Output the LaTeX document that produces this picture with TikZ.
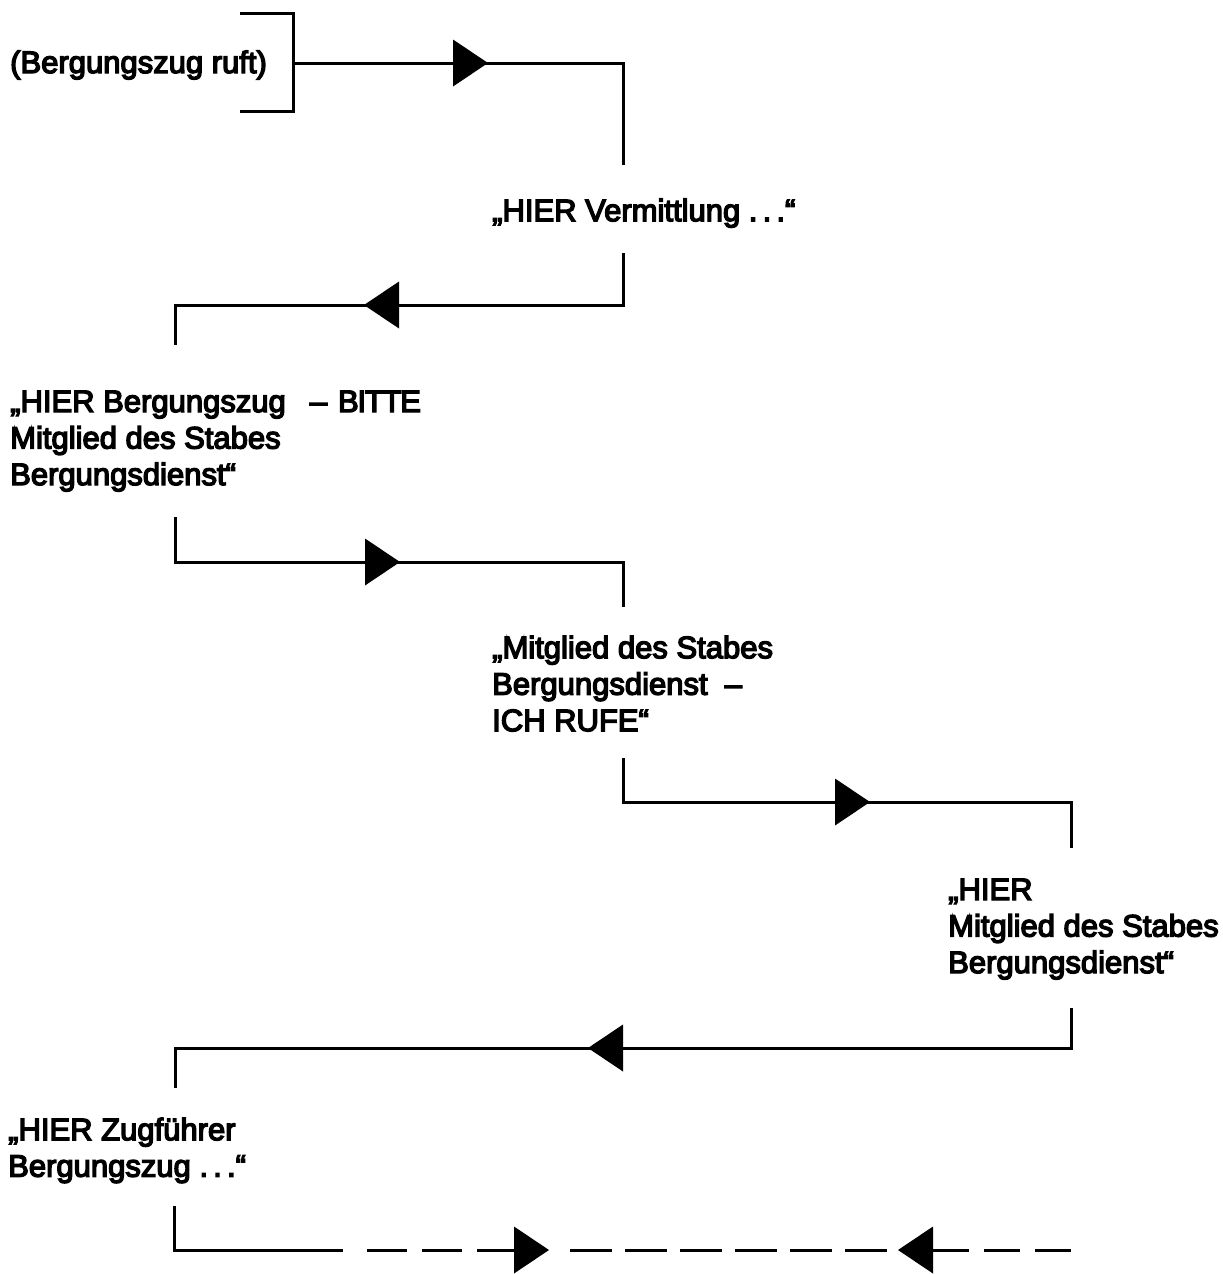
\documentclass[tikz,border=0pt]{standalone}
\usepackage{fontspec}
\setmainfont{Liberation Sans}[UprightFeatures={FakeBold=4.5}]
\begin{document}
\begin{tikzpicture}[x=1pt,y=-1pt,
  wire/.style={line width=3pt, line join=miter},
  msg/.style={font=\fontsize{31}{36.5}\selectfont, inner sep=0pt, align=left, anchor=north west},
  pics/headR/.style={code={\fill (0,0) -- (-35,-23.5) -- (-35,23.5) -- cycle;}},
  pics/headL/.style={code={\fill (0,0) -- (35,-23.5) -- (35,23.5) -- cycle;}}]
\useasboundingbox (0,0) rectangle (1223,1274);

% call texts
\node[msg, anchor=base west] (caller) at (10,73) {(Bergungszug ruft)};
\node[msg] (m1) at (492,198.5) {„HIER Vermittlung .\,.\,.“};
\node[msg] (m2) at (10,390.5) {„HIER Bergungszug\hspace{24pt}–\hspace{11pt}{\addfontfeature{LetterSpace=-4}BITTE}\\Mitglied des Stabes\\Bergungsdienst“};
\node[msg] (m3) at (492,635.5) {„Mitglied des Stabes\\Bergungsdienst \ –\\ICH RUFE“};
\node[msg] (m4) at (948,878.5) {„HIER\\Mitglied des Stabes\\Bergungsdienst“};
\node[msg] (m5) at (8,1117.5) {„HIER Zugführer\\Bergungszug .\,.\,.“};

% bracket around the caller
\coordinate (bt) at (240,13);
\coordinate (bb) at (240,111);
\draw[wire] (bt) -- (293,13) -- (293,111) -- (bb);

% 1: caller -> Vermittlung
\coordinate (s1) at (293,63);
\coordinate (c1) at (623,63);
\coordinate (e1) at (623,165);
\draw[wire] (s1) -- (c1) -- (e1);
\pic at (488,63) {headR};

% 2: Vermittlung -> Bergungszug
\coordinate (s2) at (623,253);
\coordinate (c2a) at (623,305);
\coordinate (c2b) at (175,305);
\coordinate (e2) at (175,345);
\draw[wire] (s2) -- (c2a) -- (c2b) -- (e2);
\pic at (364,305) {headL};

% 3: Bergungszug -> Stab
\coordinate (s3) at (175,517);
\coordinate (c3a) at (175,562);
\coordinate (c3b) at (623,562);
\coordinate (e3) at (623,607);
\draw[wire] (s3) -- (c3a) -- (c3b) -- (e3);
\pic at (400,562) {headR};

% 4: Stab -> Mitglied
\coordinate (s4) at (623,758);
\coordinate (c4a) at (623,802);
\coordinate (c4b) at (1071,802);
\coordinate (e4) at (1071,848);
\draw[wire] (s4) -- (c4a) -- (c4b) -- (e4);
\pic at (870,802) {headR};

% 5: Mitglied -> Zugführer
\coordinate (s5) at (1071,1008);
\coordinate (c5a) at (1071,1048);
\coordinate (c5b) at (175,1048);
\coordinate (e5) at (175,1088);
\draw[wire] (s5) -- (c5a) -- (c5b) -- (e5);
\pic at (588,1048) {headL};

% 6: continuing conversation (dashed)
\coordinate (s6) at (174,1206);
\coordinate (c6) at (174,1250);
\coordinate (d6a) at (343,1250);
\coordinate (d6b) at (352,1250);
\coordinate (h6a) at (515,1250);
\coordinate (h6b) at (557,1250);
\coordinate (h7a) at (898,1250);
\coordinate (h7b) at (933,1250);
\coordinate (e6) at (1071,1250);
\draw[wire] (s6) -- (c6) -- (d6a);
\draw[wire, dash pattern=on 40pt off 15pt, dash phase=40pt] (d6b) -- (h6a);
\draw[wire, dash pattern=on 42pt off 13pt, dash phase=42pt] (h6b) -- (h7a);
\draw[wire, dash pattern=on 36pt off 15pt] (h7b) -- (e6);
\pic at (549,1250) {headR};
\pic at (898,1250) {headL};
\end{tikzpicture}
\end{document}
